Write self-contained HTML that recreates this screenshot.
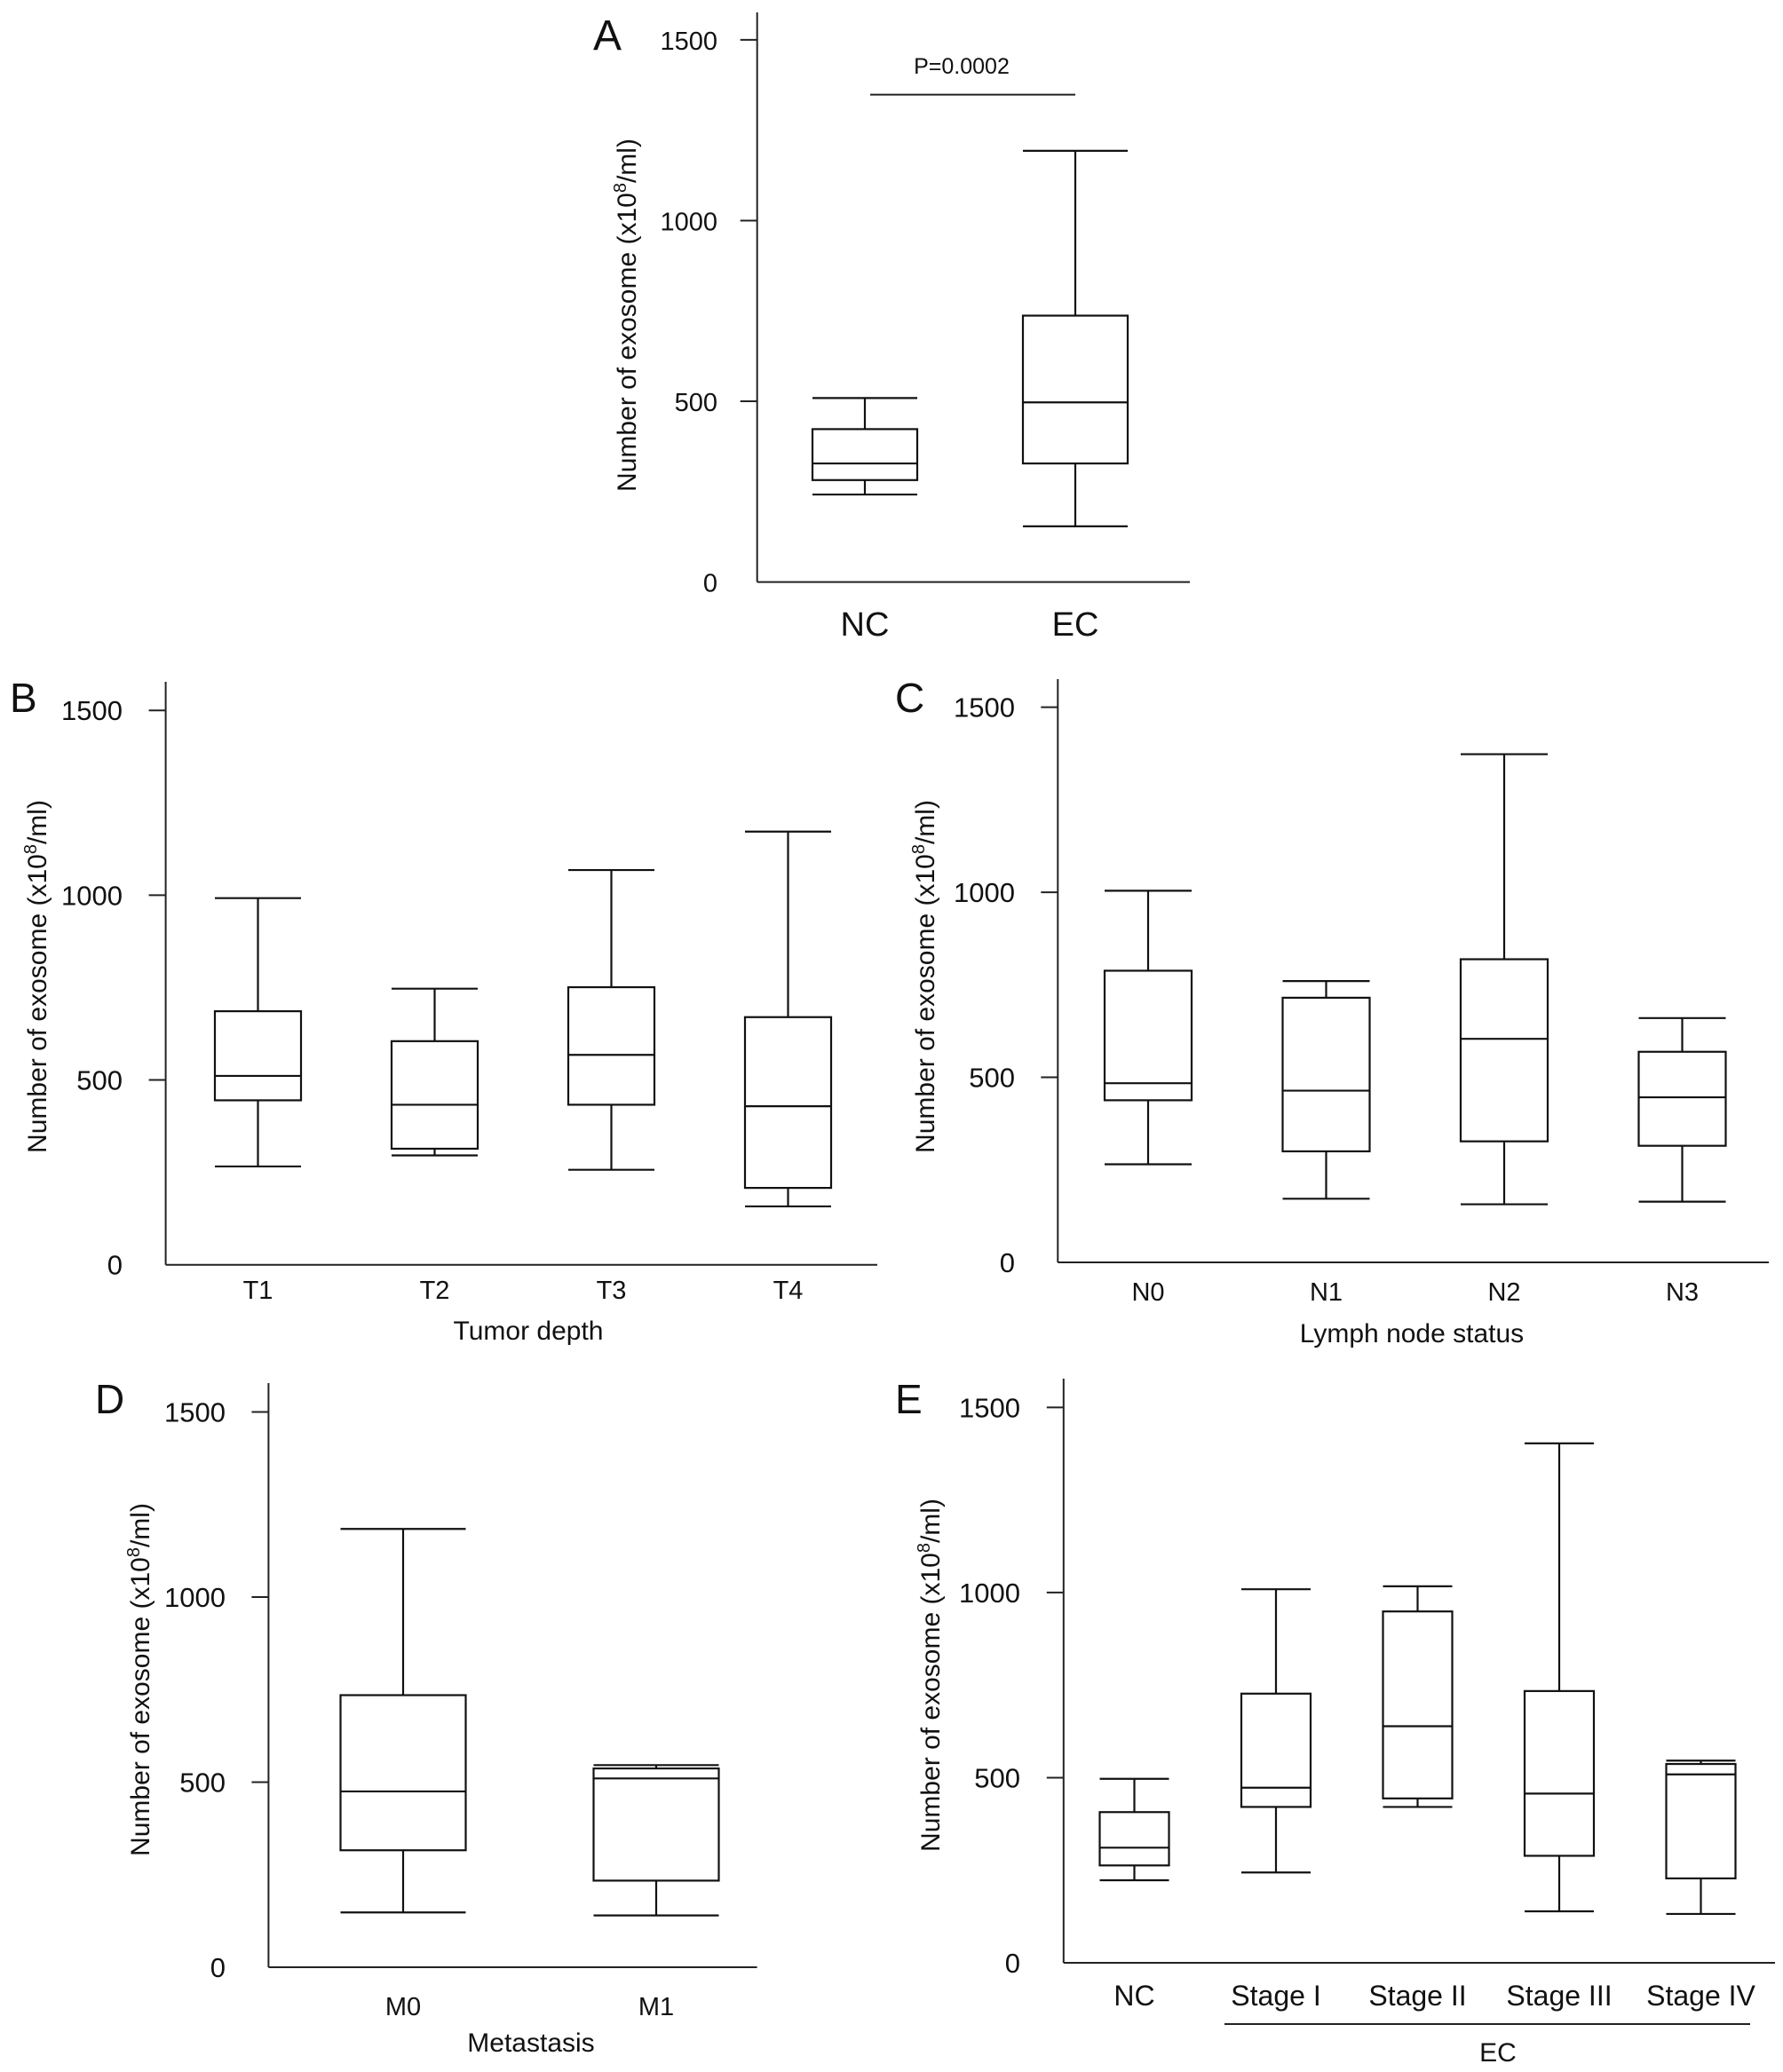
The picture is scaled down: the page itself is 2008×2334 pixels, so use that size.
<!DOCTYPE html>
<html><head><meta charset="utf-8">
<style>
html,body{margin:0;padding:0;background:#fff;}
svg{display:block;}
text{font-family:"Liberation Sans",Arial,sans-serif;fill:#111;}
</style></head>
<body>
<svg id="fig" xmlns="http://www.w3.org/2000/svg" width="2008" height="2334" viewBox="0 0 2008 2334"></svg>
<script>
// ---- data (values in x10^8/ml) ----
const catsA = ["NC","EC"];
const minA = [242,154];
const q1A = [282,328];
const medA = [328,497];
const q3A = [423,737];
const maxA = [509,1193];

const catsB = ["T1","T2","T3","T4"];
const minB = [266,296,257,158];
const q1B = [445,314,433,208];
const medB = [511,433,568,429];
const q3B = [686,605,751,670];
const maxB = [992,747,1068,1172];

const catsC = ["N0","N1","N2","N3"];
const minC = [265,172,157,164];
const q1C = [438,300,327,315];
const medC = [484,464,604,446];
const q3C = [788,715,819,569];
const maxC = [1004,760,1373,660];

const catsD = ["M0","M1"];
const minD = [148,140];
const q1D = [316,234];
const medD = [475,510];
const q3D = [735,537];
const maxD = [1184,546];

const catsE = ["NC","Stage I","Stage II","Stage III","Stage IV"];
const minE = [223,244,421,139,132];
const q1E = [263,421,444,289,228];
const medE = [311,473,639,457,509];
const q3E = [407,727,949,734,537];
const maxE = [497,1009,1017,1403,546];

const yTicks = [0,500,1000,1500];

const NS = "http://www.w3.org/2000/svg";
const svg = document.getElementById('fig');
function mk(tag, attrs, parent){
  const e = document.createElementNS(NS, tag);
  for (const k in attrs) e.setAttribute(k, attrs[k]);
  (parent||svg).appendChild(e);
  return e;
}

function panel(p){
  const g = mk('g', {});
  
  
  const y = v => p.y0 - (p.y0 - p.y1500) * v / 1500;
  const n = p.cats.length;
  const cx = i => p.first + i * p.step;
  const ya = mk('line', {x1:p.ax, y1:p.top, x2:p.ax, y2:p.y0, stroke:'#222', 'stroke-width':2}, g);
  
  
  const xa = mk('line', {x1:p.ax, y1:p.y0, x2:p.right, y2:p.y0, stroke:'#222', 'stroke-width':2}, g);
  
  
  yTicks.forEach(t => {
    if (t > 0) {
      const tk = mk('line', {x1:p.ax-19, y1:y(t), x2:p.ax, y2:y(t), stroke:'#222', 'stroke-width':2}, g);
      
      
    }
    const tl = mk('text', {x:p.tickX, y:y(t)+11, 'font-size':p.tickFs, 'text-anchor':'end'}, g);
    tl.textContent = t;
    
    
  });
  const L = mk('text', {x:p.lx, y:p.ly, 'font-size':p.lfs}, g);
  L.textContent = p.letter;
  
  
  const yt = mk('text', {x:0, y:0, 'font-size':30, 'text-anchor':'middle', transform:`translate(${p.ytx},${p.yty}) rotate(-90)`}, g);
  
  
  const s1 = mk('tspan', {}, yt); s1.textContent = 'Number of exosome (x10';
  const s2 = mk('tspan', {'font-size':20, dy:-11}, yt); s2.textContent = '8';
  const s3 = mk('tspan', {dy:11}, yt); s3.textContent = '/ml)';
  for (let i = 0; i < n; i++) {
    const c = cx(i), hw = p.bw / 2;
    const bg = mk('g', {fill:'none', stroke:'#111', 'stroke-width':2.2}, g);
    
    
    mk('line', {x1:c, y1:y(p.max[i]), x2:c, y2:y(p.q3[i])}, bg);
    mk('line', {x1:c, y1:y(p.q1[i]), x2:c, y2:y(p.min[i])}, bg);
    mk('line', {x1:c-hw, y1:y(p.max[i]), x2:c+hw, y2:y(p.max[i])}, bg);
    mk('line', {x1:c-hw, y1:y(p.min[i]), x2:c+hw, y2:y(p.min[i])}, bg);
    mk('rect', {x:c-hw, y:y(p.q3[i]), width:p.bw, height:y(p.q1[i])-y(p.q3[i]), fill:'#fff'}, bg);
    mk('line', {x1:c-hw, y1:y(p.med[i]), x2:c+hw, y2:y(p.med[i])}, bg);
    const cl = mk('text', {x:c, y:p.catY, 'font-size':p.catFs, 'text-anchor':'middle'}, g);
    cl.textContent = p.cats[i];
    
    
  }
  if (p.xtitle) {
    const xt = mk('text', {x:p.xtx, y:p.xty, 'font-size':30, 'text-anchor':'middle'}, g);
    xt.textContent = p.xtitle;
    
    
  }
  return {g, y, cx};
}

const A = panel({letter:'A', cats:catsA, min:minA, q1:q1A, med:medA, q3:q3A, max:maxA,
  ax:852.7, top:14, y0:655.6, y1500:44.9, right:1340, first:974, step:237, bw:118,
  tickX:808, tickFs:29, lx:668, ly:56, lfs:48, ytx:716, yty:355, catY:716, catFs:38});
const sig = mk('line', {x1:980, y1:106.6, x2:1211, y2:106.6, stroke:'#222', 'stroke-width':2}, A.g);


const pv = mk('text', {x:1083, y:83, 'font-size':25, 'text-anchor':'middle'}, A.g);
pv.textContent = 'P=0.0002';



panel({letter:'B', cats:catsB, min:minB, q1:q1B, med:medB, q3:q3B, max:maxB,
  ax:186.6, top:768, y0:1424.7, y1500:800.2, right:988, first:290.5, step:199, bw:97,
  tickX:138, tickFs:31, lx:11, ly:802, lfs:46, ytx:52, yty:1100, catY:1463, catFs:29,
  xtitle:'Tumor depth', xtx:595, xty:1509});

panel({letter:'C', cats:catsC, min:minC, q1:q1C, med:medC, q3:q3C, max:maxC,
  ax:1191.3, top:765, y0:1422, y1500:796.6, right:1992, first:1293, step:200.5, bw:98,
  tickX:1143, tickFs:31, lx:1008, ly:802, lfs:46, ytx:1052, yty:1100, catY:1465, catFs:29,
  xtitle:'Lymph node status', xtx:1590, xty:1512});

panel({letter:'D', cats:catsD, min:minD, q1:q1D, med:medD, q3:q3D, max:maxD,
  ax:302.4, top:1558, y0:2216, y1500:1590.5, right:852.6, first:454, step:285, bw:141,
  tickX:254, tickFs:31, lx:107, ly:1592, lfs:46, ytx:168, yty:1892, catY:2270, catFs:29,
  xtitle:'Metastasis', xtx:598, xty:2311});

const E = panel({letter:'E', cats:catsE, min:minE, q1:q1E, med:medE, q3:q3E, max:maxE,
  ax:1197.8, top:1553, y0:2211, y1500:1585.4, right:1999, first:1277.5, step:159.5, bw:78,
  tickX:1149, tickFs:31, lx:1008, ly:1592, lfs:46, ytx:1058, yty:1887, catY:2259, catFs:32});
const ecl = mk('line', {x1:1379, y1:2280, x2:1971, y2:2280, stroke:'#222', 'stroke-width':2}, E.g);


const ect = mk('text', {x:1687, y:2322, 'font-size':30, 'text-anchor':'middle'}, E.g);
ect.textContent = 'EC';


</script>
</body></html>
